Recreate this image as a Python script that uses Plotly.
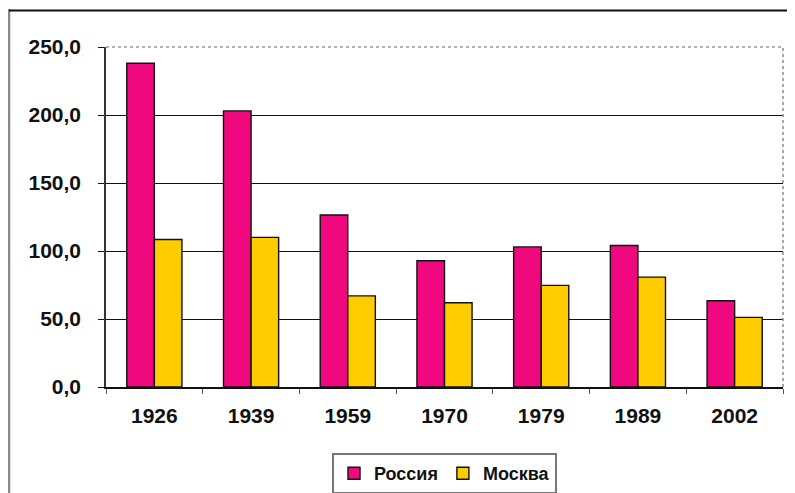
import plotly.graph_objects as go

years = ["1926", "1939", "1959", "1970", "1979", "1989", "2002"]
russia = [238.0, 203.0, 126.5, 92.8, 103.0, 104.0, 63.4]
moscow = [108.5, 110.0, 67.0, 62.0, 74.7, 80.8, 51.2]
series_names = ["Россия", "Москва"]
colors = ["#F0087E", "#FFCC00"]

OFF = 8  # page body margin
W, H = 795 - OFF, 493 - OFF
L, R, T, B = 106 - OFF, 12, 47 - OFF, 106
pw, ph = W - L - R, H - T - B

def px(x):
    return (x - OFF - L) / pw

def py(y):
    return (H - B - (y - OFF)) / ph

fig = go.Figure()
for name, vals, col in zip(series_names, [russia, moscow], colors):
    fig.add_trace(go.Bar(x=years, y=vals, name=name,
                         marker=dict(color=col, line=dict(color="#111111", width=1.4))))

fam = "Liberation Sans, Arial, sans-serif"
font = dict(family=fam, size=21, color="#111111", weight="bold")

fig.update_layout(
    width=W, height=H,
    margin=dict(l=L, r=R, t=T, b=B, autoexpand=False),
    paper_bgcolor="white", plot_bgcolor="white",
    barmode="group", bargap=0.43, bargroupgap=0.0,
    separators=", ",
    font=font,
    showlegend=True,
    legend=dict(orientation="h", x=0.5, xanchor="center", y=py(453), yanchor="top",
                bordercolor="#777777", borderwidth=2, bgcolor="white",
                font=dict(family=fam, size=18, color="#111111", weight="bold"),
                itemwidth=30, traceorder="normal"),
    xaxis=dict(showgrid=False, showline=True, linecolor="#111111", linewidth=1.5,
               ticks="outside", tickson="boundaries", ticklen=5, tickcolor="#555555",
               ticklabelstandoff=9, tickfont=font, automargin=False),
    yaxis=dict(range=[0, 250], dtick=50, tickformat=".1f", showgrid=True, gridcolor="#111111", gridwidth=1.3,
               showline=True, linecolor="#333333", linewidth=1.5, ticks="outside", ticklen=6,
               tickcolor="#111111", ticklabelstandoff=13, tickfont=font, zeroline=False, automargin=False),
    shapes=[
        dict(type="line", xref="paper", yref="paper", x0=0, x1=1, y0=1, y1=1,
             line=dict(color="#9999aa", width=1.5, dash="dot")),
        dict(type="line", xref="paper", yref="paper", x0=1, x1=1, y0=0, y1=1,
             line=dict(color="#888899", width=1.5, dash="dot")),
        dict(type="line", xref="paper", yref="paper", x0=px(9), x1=px(9), y0=py(9), y1=py(493),
             line=dict(color="#888888", width=2.5)),
        dict(type="rect", xref="paper", yref="paper", x0=px(9), x1=px(800), y0=py(9.5), y1=py(11.5),
             line=dict(width=0), fillcolor="#111111", layer="above"),
    ],
)

fig.write_html("out.html")
